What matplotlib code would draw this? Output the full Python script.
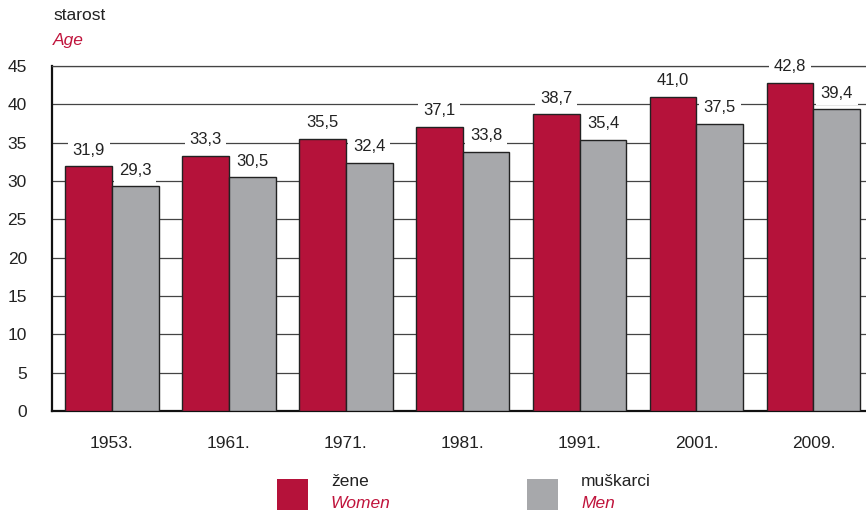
import matplotlib.pyplot as plt
import matplotlib.patches as patches
import numpy as np

years = ['1953.', '1961.', '1971.', '1981.', '1991.', '2001.', '2009.']
women = [31.9, 33.3, 35.5, 37.1, 38.7, 41.0, 42.8]
men = [29.3, 30.5, 32.4, 33.8, 35.4, 37.5, 39.4]

RED = '#b5123a'
GREY = '#a7a8ab'
TXT_RED = '#c0143c'
FONT = ['Liberation Sans Narrow', 'Liberation Sans', 'DejaVu Sans']
plt.rcParams['font.family'] = FONT

fig = plt.figure(figsize=(8.66, 5.13), dpi=100)
ax = fig.add_axes([52 / 866, 102 / 513, 1 - 52 / 866, 345 / 513])

x = np.arange(len(years))
w = 0.40
ax.bar(x - w / 2, women, w, color=RED, edgecolor='#222222', linewidth=1, zorder=3)
ax.bar(x + w / 2, men, w, color=GREY, edgecolor='#222222', linewidth=1, zorder=3)

def fmt(v):
    return f'{v:.1f}'.replace('.', ',')

for xs, vals in [(x - w / 2, women), (x + w / 2, men)]:
    for xi, v in zip(xs, vals):
        ax.text(xi, v + 1.1, fmt(v), ha='center', va='bottom', fontsize=12, color='#222222',
                bbox=dict(facecolor='white', edgecolor='none', pad=3.5), zorder=4)

ax.set_xlim(-0.513, 6.45)
ax.set_ylim(0, 45)
ax.set_yticks(range(0, 46, 5))
ax.set_xticks(x)
ax.set_xticklabels(years)
ax.yaxis.grid(True, color='#444444', linewidth=0.9, zorder=0)
ax.set_axisbelow(True)
ax.tick_params(axis='both', length=0, labelsize=12.5, colors='#222222')
ax.tick_params(axis='y', pad=18)
ax.tick_params(axis='x', pad=18)
ax.spines['right'].set_visible(False)
ax.spines['top'].set_color('#444444')
ax.spines['top'].set_linewidth(0.9)
ax.spines['left'].set_linewidth(1.6)
ax.spines['bottom'].set_linewidth(1.6)
ax.spines['left'].set_color('#111111')
ax.spines['bottom'].set_color('#111111')

fig.text(53 / 866, 1 - 16 / 513, 'starost', fontsize=12.5, va='center', ha='left', color='#222222')
fig.text(53 / 866, 1 - 41 / 513, 'Age', fontsize=12.5, va='center', ha='left', color=TXT_RED, style='italic')

# legend
for x0, col, t1, t2 in [(277, RED, 'žene', 'Women'), (527, GREY, 'muškarci', 'Men')]:
    fig.patches.append(patches.Rectangle((x0 / 866, (513 - 510) / 513), 31 / 866, 31 / 513,
                                         transform=fig.transFigure, facecolor=col, edgecolor='none'))
    fig.text((x0 + 54) / 866, 1 - 482 / 513, t1, fontsize=12.5, va='center', ha='left', color='#222222')
    fig.text((x0 + 54) / 866, 1 - 503 / 513, t2, fontsize=12.5, va='center', ha='left', color=TXT_RED, style='italic')

fig.savefig('out.png', dpi=100)
